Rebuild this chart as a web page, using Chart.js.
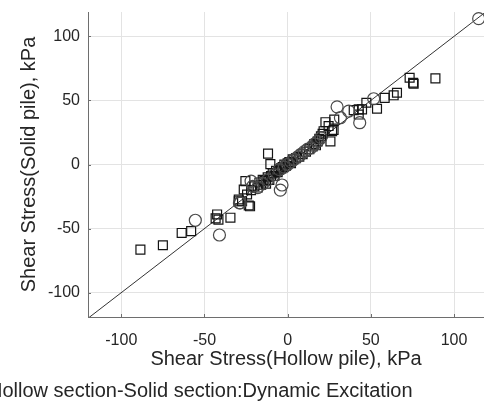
<!DOCTYPE html>
<html>
<head>
<meta charset="utf-8">
<script src="https://cdn.jsdelivr.net/npm/chart.js@4"></script>
<style>
  html, body { margin: 0; padding: 0; background: #fff; overflow: hidden; }
  #wrap { position: relative; width: 484px; height: 409px; }
  #caption {
    position: absolute; left: -12px; top: 379px; white-space: nowrap;
    font-family: "Liberation Sans", Arial, sans-serif; font-size: 20px; color: #262626;
  }
</style>
</head>
<body>
<div id="wrap">
  <canvas id="shear" width="484" height="409"></canvas>
  <div id="caption">Hollow section-Solid section:Dynamic Excitation</div>
</div>
<script>
// hollow pile stress (x) vs solid pile stress (y), kPa
var squareX = [-88.5, -75, -63.7, -58, -43.3, -42.4, -41.6, -34.4, -29.4, -27.4, -23.4, -22.6, -29.4, -25.4, -26.4, -24.4, -11.8, -10.4,
  -22, -20, -18, -17, -16, -15, -14, -13, -12, -11, -10, -9, -8, -7, -6, -5, -4, -3, -2, -1, 0, 1, 2, 3, 5, 7, 9, 11, 13, 15, 16, 17, 18, 19, 20, 21,
  22.7, 24.6, 26.7, 25.7, 21.6, 27.6, 28,
  39.7, 42.7, 44.7, 42.7, 47.3, 53.7, 58.3, 63.7, 65.7, 73.3, 75.4, 75.7, 88.8];
var squareY = [-66.4, -63, -53.4, -52, -42, -39, -43, -41.5, -28.7, -28.7, -32, -32.6, -27.3, -13, -19.5, -23.4, 8.5, 0.3,
  -20, -17, -18, -14, -16, -12, -13, -15, -10, -12, -9, -7, -9, -5, -6, -4, -3, -2, 0, -1, 1, 2, 1, 4, 5, 6, 8, 10, 12, 14, 16, 15, 18, 20, 22, 24,
  33, 30, 26, 18, 26, 27, 35,
  42.4, 43, 43, 39, 48.2, 43.5, 52, 54, 56, 67.7, 63.8, 63, 67.2];

var circleX = [-55.5, -41, -29, -28.4, -22, -21, -4.4, -3.4, -18, -15, -12, -8, -5, -2, 0, 2, 4, 6, 8, 10, 12, 14, 16, 18, 20,
  29.7, 31.7, 36.7, 43.3, 51.7, 114.8];
var circleY = [-43.5, -55, -30, -30, -13, -17, -20, -16, -18, -15, -12, -8, -4, -2, 0, 2, 4, 6, 8, 10, 12, 13, 16, 18, 21,
  45, 36.5, 41.6, 32.6, 51.3, 113.8];

var refLineX = [-120, 120];
var refLineY = [-120, 120];

var tickValues = [-100, -50, 0, 50, 100];

function toPoints(xs, ys) {
  return xs.map(function (x, i) { return { x: x, y: ys[i] }; });
}

var fontFamily = '"Liberation Sans", Arial, sans-serif';
var textColor = '#262626';
var axisColor = '#6e6e6e';

// MATLAB style inward tick marks
const inwardTicks = {
  id: 'inwardTicks',
  afterDatasetsDraw(chart) {
    const ctx = chart.ctx;
    const area = chart.chartArea;
    const xs = chart.scales.x, ys = chart.scales.y;
    ctx.save();
    ctx.strokeStyle = axisColor;
    ctx.lineWidth = 1;
    ctx.beginPath();
    tickValues.forEach(function (v) {
      const px = Math.round(xs.getPixelForValue(v)) + 0.5;
      ctx.moveTo(px, area.bottom);
      ctx.lineTo(px, area.bottom - 3);
      const py = Math.round(ys.getPixelForValue(v)) + 0.5;
      ctx.moveTo(area.left, py);
      ctx.lineTo(area.left + 3, py);
    });
    ctx.stroke();
    ctx.restore();
  }
};

function keepTicks(scale) {
  scale.ticks = tickValues.map(function (v) { return { value: v }; });
}

new Chart("shear", {
  type: "scatter",
  data: {
    datasets: [{
      label: "Circle",
      data: toPoints(circleX, circleY),
      pointStyle: "circle",
      pointRadius: 6,
      borderColor: "#4a4a4a",
      backgroundColor: "rgba(0,0,0,0)",
      borderWidth: 1.2
    }, {
      label: "Square",
      data: toPoints(squareX, squareY),
      pointStyle: "rect",
      pointRadius: 6.3,
      borderColor: "#141414",
      backgroundColor: "rgba(0,0,0,0)",
      borderWidth: 1.2
    }, {
      label: "1:1",
      type: "line",
      data: toPoints(refLineX, refLineY),
      borderColor: "#333333",
      borderWidth: 1,
      pointRadius: 0,
      fill: false
    }]
  },
  options: {
    responsive: false,
    animation: false,
    layout: { autoPadding: false, padding: { top: 12, right: 0, bottom: 0, left: 0 } },
    plugins: {
      legend: { display: false },
      tooltip: { enabled: false }
    },
    scales: {
      x: {
        type: "linear",
        min: -120,
        max: 118,
        afterBuildTicks: keepTicks,
        afterFit: function (s) { s.height = 92; s.paddingLeft = 0; s.paddingRight = 0; },
        grid: { color: "#e3e3e3", drawTicks: false },
        border: { color: axisColor, width: 1 },
        ticks: { padding: 14, color: textColor, font: { family: fontFamily, size: 16 } },
        title: {
          display: true,
          text: "Shear Stress(Hollow pile), kPa",
          color: textColor,
          font: { family: fontFamily, size: 20 },
          padding: { top: 0, bottom: 38 }
        }
      },
      y: {
        type: "linear",
        min: -119,
        max: 119,
        afterBuildTicks: keepTicks,
        afterFit: function (s) { s.width = 88; s.paddingTop = 0; s.paddingBottom = 0; },
        grid: { color: "#e3e3e3", drawTicks: false },
        border: { color: axisColor, width: 1 },
        ticks: { padding: 8, color: textColor, font: { family: fontFamily, size: 16 } },
        title: {
          display: true,
          text: "Shear Stress(Solid pile), kPa",
          color: textColor,
          font: { family: fontFamily, size: 20 },
          padding: { top: 17, bottom: 0 }
        }
      }
    }
  },
  plugins: [inwardTicks]
});
</script>
</body>
</html>
